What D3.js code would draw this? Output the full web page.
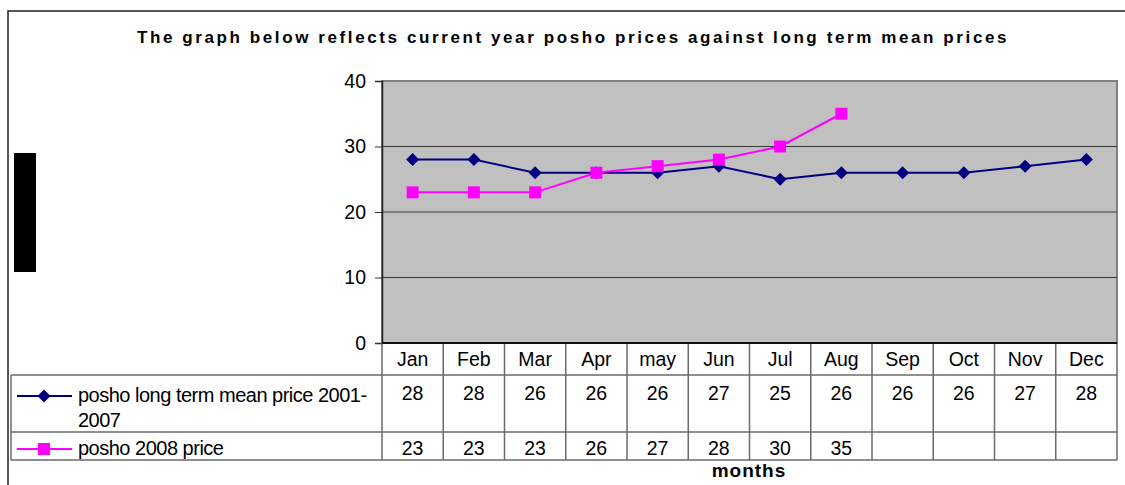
<!DOCTYPE html>
<html>
<head>
<meta charset="utf-8">
<script src="https://cdn.jsdelivr.net/npm/d3@7"></script>
<style>
  body { margin: 0; background: #fff; }
  svg { display: block; font-family: "Liberation Sans", Arial, sans-serif; }
</style>
</head>
<body>
<div id="chart"></div>
<script>
var months = ["Jan", "Feb", "Mar", "Apr", "may", "Jun", "Jul", "Aug", "Sep", "Oct", "Nov", "Dec"];
var meanPrice = [28, 28, 26, 26, 26, 27, 25, 26, 26, 26, 27, 28];
var price2008 = [23, 23, 23, 26, 27, 28, 30, 35];
var yTicks = [0, 10, 20, 30, 40];
var seriesNames = ["posho long term mean price 2001-", "posho 2008 price"];

var w = 1125, h = 485;
var plotLeft = 382, plotRight = 1117, plotTop = 81, plotBottom = 343;
var row1 = 375, row2 = 432, row3 = 460, legendLeft = 11;

var svg = d3.select("#chart").append("svg")
  .attr("width", w)
  .attr("height", h);

// outer frame
svg.append("path")
  .attr("d", "M8," + h + "V11H" + w)
  .attr("fill", "none")
  .attr("stroke", "#222")
  .attr("stroke-width", 1.5);

// title
svg.append("text")
  .attr("x", 573)
  .attr("y", 43)
  .attr("text-anchor", "middle")
  .attr("font-weight", "bold")
  .attr("font-size", 17)
  .attr("letter-spacing", 2.6)
  .text("The graph below reflects current year posho prices against long term mean prices");

// redacted axis title block
svg.append("rect")
  .attr("x", 14).attr("y", 153)
  .attr("width", 22).attr("height", 119)
  .attr("fill", "#000");

var x = d3.scaleBand().domain(months).range([plotLeft, plotRight]);
var y = d3.scaleLinear().domain([0, 40]).range([plotBottom, plotTop]);

svg.append("rect")
  .attr("x", plotLeft).attr("y", plotTop)
  .attr("width", plotRight - plotLeft).attr("height", plotBottom - plotTop)
  .attr("fill", "#c0c0c0")
  .attr("stroke", "#808080")
  .attr("stroke-width", 2);

// gridlines
svg.append("g")
  .selectAll("line")
  .data(yTicks.filter(function(d) { return d > 0 && d < 40; }))
  .enter()
  .append("line")
  .attr("x1", plotLeft).attr("x2", plotRight)
  .attr("y1", function(d) { return y(d); })
  .attr("y2", function(d) { return y(d); })
  .attr("stroke", "#3a3a3a")
  .attr("stroke-width", 1);

// y axis
var yAxis = svg.append("g")
  .attr("transform", "translate(" + plotLeft + ",0)")
  .call(d3.axisLeft(y).tickValues(yTicks).tickSize(7).tickPadding(9));
yAxis.select(".domain").attr("stroke", "#222").attr("stroke-width", 1.5);
yAxis.selectAll(".tick line").attr("stroke", "#333");
yAxis.selectAll(".tick text")
  .attr("font-size", 19.5)
  .attr("font-family", "Liberation Sans, Arial, sans-serif")
  .attr("fill", "#000");

// table lines
var tbl = svg.append("g").attr("stroke", "#6a6a6a").attr("stroke-width", 1.5);
[row1, row2, row3].forEach(function(ry) {
  tbl.append("line").attr("x1", legendLeft).attr("x2", plotRight).attr("y1", ry).attr("y2", ry);
});
tbl.append("line").attr("x1", legendLeft).attr("x2", legendLeft).attr("y1", row1).attr("y2", row3);
tbl.selectAll("line.v")
  .data(months)
  .enter()
  .append("line")
  .attr("class", "v")
  .attr("x1", function(d) { return x(d); })
  .attr("x2", function(d) { return x(d); })
  .attr("y1", plotBottom).attr("y2", row3);
tbl.append("line").attr("x1", plotRight).attr("x2", plotRight).attr("y1", plotBottom).attr("y2", row3);

svg.append("line")
  .attr("x1", plotLeft).attr("x2", plotRight)
  .attr("y1", plotBottom).attr("y2", plotBottom)
  .attr("stroke", "#111")
  .attr("stroke-width", 2);

// month labels and table values
var cx = function(d) { return x(d) + x.bandwidth() / 2; };
svg.append("g").selectAll("text")
  .data(months)
  .enter()
  .append("text")
  .attr("x", cx)
  .attr("y", 366)
  .attr("text-anchor", "middle")
  .attr("font-size", 19.5)
  .text(function(d) { return d; });

svg.append("g").selectAll("text")
  .data(meanPrice)
  .enter()
  .append("text")
  .attr("x", function(d, i) { return cx(months[i]); })
  .attr("y", 400)
  .attr("text-anchor", "middle")
  .attr("font-size", 19.5)
  .text(function(d) { return d; });

svg.append("g").selectAll("text")
  .data(price2008)
  .enter()
  .append("text")
  .attr("x", function(d, i) { return cx(months[i]); })
  .attr("y", 455)
  .attr("text-anchor", "middle")
  .attr("font-size", 19.5)
  .text(function(d) { return d; });

// series lines
var line = d3.line()
  .x(function(d, i) { return cx(months[i]); })
  .y(function(d) { return y(d); });

svg.append("path")
  .datum(meanPrice)
  .attr("d", line)
  .attr("fill", "none")
  .attr("stroke", "#000080")
  .attr("stroke-width", 2);

svg.append("path")
  .datum(price2008)
  .attr("d", line)
  .attr("fill", "none")
  .attr("stroke", "#ff00ff")
  .attr("stroke-width", 2);

var diamond = d3.symbol().type(d3.symbolSquare).size(84);
svg.append("g").selectAll("path")
  .data(meanPrice)
  .enter()
  .append("path")
  .attr("d", diamond)
  .attr("transform", function(d, i) {
    return "translate(" + cx(months[i]) + "," + y(d) + ") rotate(45)";
  })
  .attr("fill", "#000080");

svg.append("g").selectAll("rect")
  .data(price2008)
  .enter()
  .append("rect")
  .attr("x", function(d, i) { return cx(months[i]) - 6; })
  .attr("y", function(d) { return y(d) - 6; })
  .attr("width", 12).attr("height", 12)
  .attr("fill", "#ff00ff");

// legend keys in table
svg.append("line")
  .attr("x1", 17).attr("x2", 72).attr("y1", 396).attr("y2", 396)
  .attr("stroke", "#000080").attr("stroke-width", 2);
svg.append("path")
  .attr("d", diamond)
  .attr("transform", "translate(44,396) rotate(45)")
  .attr("fill", "#000080");
svg.append("line")
  .attr("x1", 17).attr("x2", 72).attr("y1", 449).attr("y2", 449)
  .attr("stroke", "#ff00ff").attr("stroke-width", 2);
svg.append("rect")
  .attr("x", 38).attr("y", 443).attr("width", 12).attr("height", 12)
  .attr("fill", "#ff00ff");

var leg1 = svg.append("text")
  .attr("x", 78).attr("y", 402)
  .attr("font-size", 20)
  .attr("letter-spacing", -0.5);
leg1.append("tspan").text(seriesNames[0]);
leg1.append("tspan").attr("x", 78).attr("dy", 25).text("2007");

svg.append("text")
  .attr("x", 78).attr("y", 455)
  .attr("font-size", 20)
  .attr("letter-spacing", -0.5)
  .text(seriesNames[1]);

svg.append("text")
  .attr("x", 749).attr("y", 477)
  .attr("text-anchor", "middle")
  .attr("font-weight", "bold")
  .attr("font-size", 19)
  .attr("letter-spacing", 1)
  .text("months");
</script>
</body>
</html>
